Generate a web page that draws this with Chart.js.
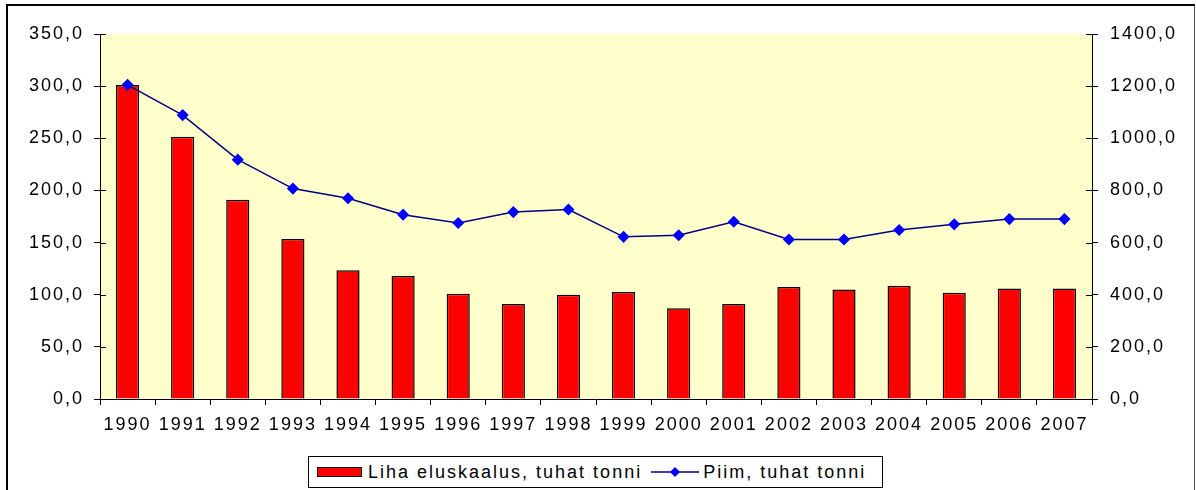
<!DOCTYPE html>
<html>
<head>
<meta charset="utf-8">
<script src="https://cdn.jsdelivr.net/npm/chart.js@4/dist/chart.umd.min.js"></script>
<style>
  body { margin: 0; background: #fff; }
  #wrap { position: relative; width: 1196px; height: 490px; overflow: hidden; }
  #frame { position: absolute; left: 6px; top: 4px; width: 1189px; height: 500px; border: 2px solid #000; border-right: 1px solid #555; box-sizing: border-box; }
  #chart { position: absolute; left: 0; top: 0; }
  #legend {
    position: absolute; left: 308px; top: 456px; width: 575px; height: 32px;
    border: 1px solid #000; box-sizing: border-box; background: #fff;
    font-family: "Liberation Sans", Arial, sans-serif; font-size: 18px; letter-spacing: 2px;
    display: flex; align-items: center; color: #000; white-space: nowrap;
  }
  .swatch { display: inline-block; width: 43px; height: 8px; background: #f00; border: 1.5px solid #000; margin-left: 8px; margin-right: 6px; }
  .lineicon { margin-left: 9px; margin-right: 4px; }
</style>
</head>
<body>
<div id="wrap">
  <div id="frame"></div>
  <canvas id="chart" width="1196" height="490"></canvas>
  <div id="legend">
    <span class="swatch"></span><span>Liha eluskaalus, tuhat tonni</span>
    <svg class="lineicon" width="48" height="14"><line x1="0" y1="7" x2="48" y2="7" stroke="#000080" stroke-width="1.5"/><polygon points="24,2 29,7 24,12 19,7" fill="#0000ff"/></svg><span>Piim, tuhat tonni</span>
  </div>
</div>
<script>
const years = ['1990','1991','1992','1993','1994','1995','1996','1997','1998','1999','2000','2001','2002','2003','2004','2005','2006','2007'];
const liha = [301, 251.5, 191, 153.5, 123.5, 118, 101, 91, 100, 102.5, 87, 91, 107.5, 105, 108.5, 102, 106, 106];
const piim = [1205, 1089, 918, 807, 770, 707, 675, 717, 727, 622, 628, 680, 612, 612, 648, 670, 690, 690];

const fmt = v => v.toFixed(1).replace('.', ',');
const tickFont = { family: 'Liberation Sans', size: 18 };

// yellow plot area + text spacing
const plotBg = {
  id: 'plotBg',
  beforeDraw(chart) {
    const { ctx, chartArea: a } = chart;
    ctx.letterSpacing = '2px';
    ctx.save();
    ctx.fillStyle = '#ffffcc';
    ctx.fillRect(a.left, a.top, a.right - a.left, a.bottom - a.top);
    ctx.restore();
  },
  afterDraw(chart) {
    // excel style cross ticks: inner half
    const { ctx, chartArea: a } = chart;
    ctx.save();
    ctx.strokeStyle = '#000';
    ctx.lineWidth = 1;
    const yl = chart.scales.y, yr = chart.scales.y1;
    yl.ticks.forEach((t, i) => {
      const p = Math.round(yl.getPixelForTick(i)) + 0.5;
      ctx.beginPath(); ctx.moveTo(a.left, p); ctx.lineTo(a.left + 6, p); ctx.stroke();
    });
    yr.ticks.forEach((t, i) => {
      const p = Math.round(yr.getPixelForTick(i)) + 0.5;
      ctx.beginPath(); ctx.moveTo(a.right - 6, p); ctx.lineTo(a.right, p); ctx.stroke();
    });
    ctx.restore();
  }
};

new Chart(document.getElementById('chart'), {
  type: 'bar',
  data: {
    labels: years,
    datasets: [
      {
        type: 'line',
        label: 'Piim, tuhat tonni',
        data: piim,
        yAxisID: 'y1',
        borderColor: '#000080',
        borderWidth: 1.5,
        pointStyle: 'rectRot',
        pointRadius: 5,
        pointBackgroundColor: '#0000ff',
        pointBorderColor: '#0000ff',
        tension: 0,
        order: 0
      },
      {
        label: 'Liha eluskaalus, tuhat tonni',
        data: liha,
        yAxisID: 'y',
        backgroundColor: '#ff0000',
        borderColor: '#000',
        borderWidth: 1.5,
        categoryPercentage: 1,
        barPercentage: 0.42,
        order: 1
      }
    ]
  },
  options: {
    responsive: false,
    animation: false,
    layout: { padding: { top: 34, left: 0, right: 0, bottom: 0 } },
    plugins: { legend: { display: false }, tooltip: { enabled: false } },
    scales: {
      x: {
        grid: { offset: true, drawOnChartArea: false, tickLength: 6, color: '#000' },
        border: { color: '#000', width: 1 },
        ticks: { color: '#000', font: tickFont, padding: 9, maxRotation: 0, autoSkip: false },
        afterFit: s => { s.height = 91; }
      },
      y: {
        position: 'left',
        min: 0, max: 350,
        grid: { drawOnChartArea: false, tickLength: 6, color: '#000' },
        border: { color: '#000', width: 1 },
        ticks: { stepSize: 50, color: '#000', font: tickFont, padding: 10, callback: v => fmt(v) },
        afterFit: s => { s.width = 100; }
      },
      y1: {
        position: 'right',
        min: 0, max: 1400,
        grid: { drawOnChartArea: false, tickLength: 6, color: '#000' },
        border: { color: '#000', width: 1 },
        ticks: { stepSize: 200, color: '#000', font: tickFont, padding: 12, callback: v => fmt(v) },
        afterFit: s => { s.width = 104; }
      }
    }
  },
  plugins: [plotBg]
});
</script>
</body>
</html>
